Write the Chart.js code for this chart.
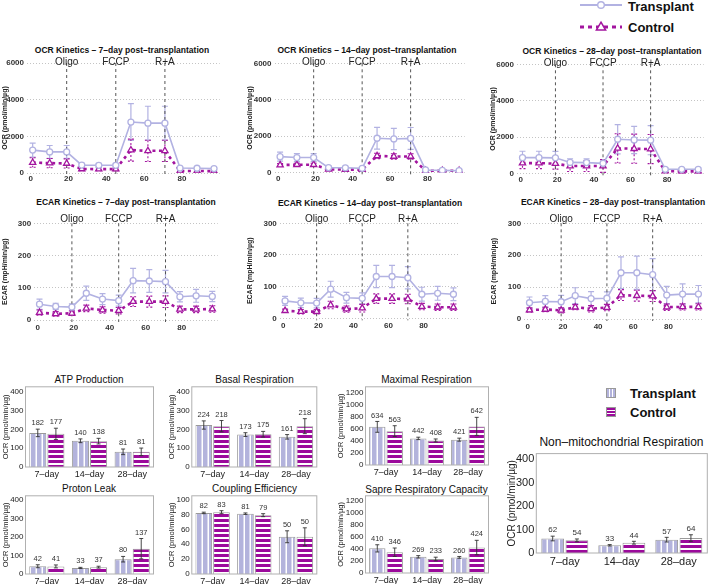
<!DOCTYPE html>
<html>
<head>
<meta charset="utf-8">
<script src="https://cdn.jsdelivr.net/npm/chart.js@4.4.0/dist/chart.umd.min.js"></script>
<style>
  body { margin: 0; background: #fff; width: 709px; height: 584px; position: relative; overflow: hidden;
         font-family: "Liberation Sans", Arial, sans-serif; }
  canvas { position: absolute; }
  .t { position: absolute; white-space: nowrap; transform: translate(-50%, -50%); color: #111; }
  .lg { position: absolute; white-space: nowrap; transform: translateY(-50%); font-weight: bold; color: #111; }
  .sw { position: absolute; width: 10px; height: 10px; box-sizing: border-box; border: 1px solid #999; }
</style>
</head>
<body>

<!-- legends -->
<svg style="position:absolute;left:578px;top:0" width="46" height="34">
  <line x1="2" y1="5" x2="44" y2="5" stroke="#b2b2e2" stroke-width="1.8"/>
  <circle cx="23" cy="5" r="3.3" fill="#fff" stroke="#b2b2e2" stroke-width="1.4"/>
  <line x1="2" y1="27" x2="44" y2="27" stroke="#a3159f" stroke-width="3" stroke-dasharray="4 4"/>
  <polygon points="23,22.2 27.6,30 18.4,30" fill="#fff" stroke="#a3159f" stroke-width="1.5"/>
</svg>
<div class="lg" style="left:628px;top:6px;font-size:13px">Transplant</div>
<div class="lg" style="left:628px;top:27px;font-size:13px">Control</div>

<div class="sw" style="left:606px;top:388px;background:repeating-linear-gradient(90deg,#b3b3dc 0 2px,#fff 2px 3px)"></div>
<div class="sw" style="left:606px;top:407px;background:repeating-linear-gradient(180deg,#9b0a9b 0 1.5px,#fff 1.5px 3px)"></div>
<div class="lg" style="left:630px;top:393px;font-size:13px">Transplant</div>
<div class="lg" style="left:630px;top:412px;font-size:13px">Control</div>

<script>
// ---- kinetics (Seahorse) data ----
const timePoints = [1, 10, 19, 27, 36, 45, 53, 62, 71, 79, 88, 97];
const timeTicks = [0, 20, 40, 60, 80];
const injectionTimes = [19, 45, 71];
const injectionLabels = ['Oligo', 'FCCP', 'R+A'];

const ocrTicks = [0, 2000, 4000, 6000];
const ecarTicks = [0, 100, 200, 300];

const ocr7T = [1250, 1150, 1150, 430, 420, 420, 2780, 2720, 2720, 270, 260, 240];
const ocr7TErr = [380, 350, 350, 100, 100, 100, 1000, 920, 920, 60, 60, 60];
const ocr7C = [570, 540, 520, 220, 210, 210, 1250, 1210, 1210, 110, 110, 100];
const ocr7CErr = [260, 250, 250, 90, 80, 80, 600, 580, 580, 40, 40, 40];

const ocr14T = [880, 830, 830, 280, 270, 240, 1890, 1850, 1880, 150, 130, 110];
const ocr14TErr = [250, 220, 220, 80, 80, 80, 600, 580, 600, 40, 40, 40];
const ocr14C = [420, 440, 440, 180, 170, 170, 920, 890, 890, 110, 110, 110];
const ocr14CErr = [80, 80, 80, 50, 50, 50, 150, 150, 150, 40, 40, 40];

const ocr28T = [880, 880, 870, 620, 610, 570, 1890, 1850, 1840, 240, 240, 240];
const ocr28TErr = [350, 350, 350, 200, 200, 200, 800, 750, 800, 80, 80, 80];
const ocr28C = [580, 580, 550, 420, 420, 420, 1390, 1370, 1350, 140, 130, 130];
const ocr28CErr = [300, 300, 300, 300, 300, 350, 800, 800, 800, 80, 70, 70];

const ecar7T = [49, 42, 40, 83, 65, 60, 122, 121, 119, 72, 75, 73];
const ecar7TErr = [16, 10, 10, 22, 17, 17, 38, 35, 35, 16, 20, 16];
const ecar7C = [23, 19, 21, 36, 31, 29, 57, 57, 57, 33, 33, 34];
const ecar7CErr = [8, 7, 7, 10, 10, 10, 15, 17, 18, 10, 10, 10];

const ecar14T = [55, 49, 48, 92, 65, 63, 132, 132, 128, 76, 79, 76];
const ecar14TErr = [14, 15, 15, 25, 17, 17, 35, 35, 35, 22, 22, 20];
const ecar14C = [24, 21, 21, 42, 29, 32, 62, 62, 61, 37, 35, 35];
const ecar14CErr = [5, 7, 7, 12, 10, 12, 15, 15, 15, 10, 10, 10];

const ecar28T = [51, 55, 54, 73, 64, 65, 145, 145, 139, 75, 78, 78];
const ecar28TErr = [18, 18, 20, 25, 22, 20, 50, 52, 50, 27, 32, 27];
const ecar28C = [28, 30, 27, 37, 32, 36, 75, 73, 72, 37, 38, 38];
const ecar28CErr = [7, 7, 8, 8, 10, 10, 17, 17, 17, 10, 10, 10];

// ---- summary bar data ----
const days = ['7–day', '14–day', '28–day'];

const atpT = [182, 140, 81], atpTErr = [20, 10, 15];
const atpC = [177, 138, 81], atpCErr = [30, 15, 20];
const basalT = [224, 173, 161], basalTErr = [22, 10, 12];
const basalC = [218, 175, 218], basalCErr = [30, 15, 40];
const maxT = [634, 442, 421], maxTErr = [90, 20, 25];
const maxC = [563, 408, 642], maxCErr = [90, 25, 150];
const leakT = [42, 33, 80], leakTErr = [8, 3, 15];
const leakC = [41, 37, 137], leakCErr = [8, 5, 55];
const coupT = [82, 81, 50], coupTErr = [1, 1, 8];
const coupC = [83, 79, 50], coupCErr = [2, 2, 12];
const spareT = [410, 269, 260], spareTErr = [60, 20, 15];
const spareC = [346, 233, 424], spareCErr = [70, 30, 120];
const nonT = [62, 33, 57], nonTErr = [10, 3, 10];
const nonC = [54, 44, 64], nonCErr = [6, 6, 14];

const ticks400 = [0, 100, 200, 300, 400];
const ticks1200 = [0, 200, 400, 600, 800, 1000, 1200];
const ticks100 = [0, 20, 40, 60, 80, 100];

const LAV = '#b2b2e2', PUR = '#a3159f';
const BAR_LAV = '#b3b3dc', BAR_PUR = '#9b0a9b';
const FONT = '"Liberation Sans", Arial, sans-serif';
const plain = v => String(v);

function text(x, y, str, css) {
  const d = document.createElement('div');
  d.className = 't';
  d.textContent = str;
  d.style.cssText = `left:${x}px;top:${y}px;` + css;
  document.body.appendChild(d);
}

function place(box) {
  const c = document.createElement('canvas');
  c.width = Math.round(box.w);
  c.height = Math.round(box.h);
  c.style.left = box.x + 'px';
  c.style.top = box.y + 'px';
  document.body.appendChild(c);
  return c;
}

function padFor(box, area, xH) {
  return {
    left: 0,
    top: area.t - box.y,
    right: box.x + Math.round(box.w) - area.r,
    bottom: box.y + Math.round(box.h) - area.b - xH
  };
}

// error bars (+ optional value labels) drawn from the y scale
const errorBars = {
  id: 'errorBars',
  beforeDatasetsDraw(chart, args, o) { if (o.under) drawErrors(chart, o); },
  afterDatasetsDraw(chart, args, o) { if (!o.under) drawErrors(chart, o); }
};
function drawErrors(chart, o) {
  const ctx = chart.ctx, y = chart.scales.y;
  chart.data.datasets.forEach((ds, i) => {
    const meta = chart.getDatasetMeta(i);
    ctx.save();
    ctx.strokeStyle = ds.errColor;
    ctx.lineWidth = ds.errWidth;
    ctx.setLineDash(ds.errDash || []);
    meta.data.forEach((el, j) => {
      const v = meta.controller.getParsed(j).y, e = ds.errors[j];
      const top = y.getPixelForValue(v + e), bot = y.getPixelForValue(Math.max(v - e, 0));
      ctx.beginPath();
      ctx.moveTo(el.x, top); ctx.lineTo(el.x, bot);
      ctx.moveTo(el.x - o.cap, top); ctx.lineTo(el.x + o.cap, top);
      ctx.moveTo(el.x - o.cap, bot); ctx.lineTo(el.x + o.cap, bot);
      ctx.stroke();
      if (o.labels) {
        ctx.fillStyle = '#333';
        ctx.font = `${o.labelSize}px ${FONT}`;
        ctx.textAlign = 'center';
        ctx.textBaseline = 'middle';
        ctx.fillText(String(v), el.x, top - o.labelGap);
      }
    });
    ctx.restore();
  });
}

const injections = {
  id: 'injections',
  beforeDatasetsDraw(chart, args, o) {
    const { ctx, chartArea: a, scales: { x } } = chart;
    ctx.save();
    injectionTimes.forEach((t, i) => {
      const px = x.getPixelForValue(t);
      ctx.strokeStyle = '#555';
      ctx.lineWidth = 1;
      ctx.setLineDash([3, 3]);
      ctx.beginPath();
      ctx.moveTo(px, a.top + o.lineTop);
      ctx.lineTo(px, a.bottom + 2);
      ctx.stroke();
      ctx.fillStyle = '#222';
      ctx.font = `10px ${FONT}`;
      ctx.textAlign = 'center';
      ctx.textBaseline = 'middle';
      ctx.fillText(injectionLabels[i], px, a.top + o.labelDy);
    });
    ctx.restore();
  }
};

const frame = {
  id: 'frame',
  afterDraw(chart) {
    const { ctx, chartArea: a } = chart;
    ctx.save();
    ctx.strokeStyle = '#b0b0b0';
    ctx.lineWidth = 1;
    ctx.strokeRect(a.left, a.top, a.right - a.left, a.bottom - a.top);
    ctx.restore();
  }
};

function kinetics(s) {
  const xH = 14;
  text(s.titleX, s.titleY, s.title, 'font-size:8.5px;font-weight:bold;color:#111');
  const canvas = place(s.box);
  new Chart(canvas, {
    type: 'line',
    data: {
      datasets: [
        {
          label: 'Transplant',
          data: timePoints.map((t, i) => ({ x: t, y: s.tVals[i] })),
          errors: s.tErr, errColor: LAV, errWidth: 1.2, errDash: [],
          borderColor: LAV, borderWidth: 1.6,
          pointStyle: 'circle', pointRadius: 3, pointBorderWidth: 1.3,
          pointBackgroundColor: '#fff', pointBorderColor: LAV
        },
        {
          label: 'Control',
          data: timePoints.map((t, i) => ({ x: t, y: s.cVals[i] })),
          errors: s.cErr, errColor: PUR, errWidth: 1.1, errDash: [2, 2],
          borderColor: PUR, borderWidth: 2.6, borderDash: [3, 3.5],
          pointStyle: 'triangle', pointRadius: 3.6, pointBorderWidth: 1.3,
          pointBackgroundColor: '#fff', pointBorderColor: PUR
        }
      ]
    },
    options: {
      responsive: false,
      animation: false,
      layout: { padding: padFor(s.box, s.area, xH) },
      plugins: {
        legend: { display: false },
        tooltip: { enabled: false },
        errorBars: { under: true, cap: 3 },
        injections: { labelDy: s.labelDy, lineTop: 0 }
      },
      scales: {
        x: {
          type: 'linear', min: -2, max: 100,
          afterBuildTicks: a => { a.ticks = timeTicks.map(v => ({ value: v })); },
          afterFit: a => { a.height = xH; },
          grid: { display: false, drawTicks: false },
          border: { display: false },
          ticks: { font: { family: FONT, size: 8, weight: 'bold' }, color: '#333', padding: s.tickPad, maxRotation: 0, callback: plain }
        },
        y: {
          min: 0, max: s.yMax,
          afterBuildTicks: a => { a.ticks = s.yTicks.map(v => ({ value: v })); },
          afterFit: a => { a.width = s.area.l - s.box.x; },
          grid: { color: '#c4c4c4', lineWidth: 1, drawTicks: false },
          border: { display: false, dash: [1, 2] },
          ticks: { font: { family: FONT, size: 8, weight: 'bold' }, color: '#333', padding: 3, callback: plain },
          title: { display: true, text: s.yTitle, color: '#222', padding: 0, font: { family: FONT, size: 7, weight: 'bold' } }
        }
      }
    },
    plugins: [errorBars, injections]
  });
}

function stripes(vertical) {
  const p = document.createElement('canvas');
  const g = p.getContext('2d');
  if (vertical) {
    p.width = 6; p.height = 6;
    g.fillStyle = BAR_LAV; g.fillRect(0, 0, 6, 6);
    g.fillStyle = '#fff'; g.fillRect(4.5, 0, 1.5, 6);
  } else {
    p.width = 5; p.height = 5;
    g.fillStyle = BAR_PUR; g.fillRect(0, 0, 5, 5);
    g.fillStyle = '#fff'; g.fillRect(0, 3, 5, 2);
  }
  return g.createPattern(p, 'repeat');
}
const patT = stripes(true), patC = stripes(false);

function summary(s) {
  const xH = s.big ? 16 : 12;
  const tickSize = s.big ? 11 : 8, catSize = s.big ? 11 : 9, axSize = s.big ? 10 : 7.5;
  text((s.area.l + s.area.r) / 2, s.titleY, s.title, `font-size:${s.big ? 12 : 10}px;color:#111`);
  const canvas = place(s.box);
  new Chart(canvas, {
    type: 'bar',
    data: {
      labels: days,
      datasets: [
        { label: 'Transplant', data: s.tVals, errors: s.tErr, errColor: '#333', errWidth: 0.9,
          backgroundColor: patT, borderColor: '#9a9a9a', borderWidth: 1 },
        { label: 'Control', data: s.cVals, errors: s.cErr, errColor: '#333', errWidth: 0.9,
          backgroundColor: patC, borderColor: '#9a9a9a', borderWidth: 1 }
      ]
    },
    options: {
      responsive: false,
      animation: false,
      categoryPercentage: 0.85,
      barPercentage: 0.94,
      layout: { padding: padFor(s.box, s.area, xH) },
      plugins: {
        legend: { display: false },
        tooltip: { enabled: false },
        errorBars: { under: false, cap: 2, labels: true, labelSize: s.big ? 8 : 7.5, labelGap: 6 }
      },
      scales: {
        x: {
          afterFit: a => { a.height = xH; },
          grid: { display: false, drawTicks: false },
          border: { display: false },
          ticks: { font: { family: FONT, size: catSize }, color: '#222', padding: 2, maxRotation: 0, autoSkip: false }
        },
        y: {
          min: 0, max: s.yMax,
          afterBuildTicks: a => { a.ticks = s.yTicks.map(v => ({ value: v })); },
          afterFit: a => { a.width = s.area.l - s.box.x; },
          grid: { display: false, drawTicks: false },
          border: { display: false },
          ticks: { font: { family: FONT, size: tickSize }, color: '#222', padding: 2, callback: plain },
          title: { display: true, text: 'OCR (pmol/min/µg)', color: '#222', padding: 0, font: { family: FONT, size: axSize } }
        }
      }
    },
    plugins: [errorBars, frame]
  });
}

// ---- kinetics panels ----
kinetics({ title: 'OCR Kinetics – 7–day post–transplantation', titleX: 122, titleY: 50,
  box: { x: 1, y: 55, w: 224, h: 135 }, area: { l: 27, t: 63, r: 221, b: 173 },
  yTitle: 'OCR (pmol/min/µg)', yMax: 6000, yTicks: ocrTicks, tickPad: 1, labelDy: -1,
  tVals: ocr7T, tErr: ocr7TErr, cVals: ocr7C, cErr: ocr7CErr });
kinetics({ title: 'OCR Kinetics – 14–day post–transplantation', titleX: 367, titleY: 50,
  box: { x: 246, y: 55, w: 224, h: 135 }, area: { l: 274.5, t: 63.3, r: 466.7, b: 172.7 },
  yTitle: 'OCR (pmol/min/µg)', yMax: 6000, yTicks: ocrTicks, tickPad: 1, labelDy: -1,
  tVals: ocr14T, tErr: ocr14TErr, cVals: ocr14C, cErr: ocr14CErr });
kinetics({ title: 'OCR Kinetics – 28–day post–transplantation', titleX: 612, titleY: 51,
  box: { x: 489, y: 55, w: 220, h: 135 }, area: { l: 517, t: 64.3, r: 708.7, b: 173.7 },
  yTitle: 'OCR (pmol/min/µg)', yMax: 6000, yTicks: ocrTicks, tickPad: 1, labelDy: -1,
  tVals: ocr28T, tErr: ocr28TErr, cVals: ocr28C, cErr: ocr28CErr });

kinetics({ title: 'ECAR Kinetics – 7–day post–transplantation', titleX: 126, titleY: 202,
  box: { x: 1, y: 210, w: 222, h: 132 }, area: { l: 34.1, t: 223.3, r: 218.7, b: 320 },
  yTitle: 'ECAR (mpH/min/µg)', yMax: 300, yTicks: ecarTicks, tickPad: 3, labelDy: -4,
  tVals: ecar7T, tErr: ecar7TErr, cVals: ecar7C, cErr: ecar7CErr });
kinetics({ title: 'ECAR Kinetics – 14–day post–transplantation', titleX: 370, titleY: 203,
  box: { x: 246, y: 210, w: 218, h: 132 }, area: { l: 279.8, t: 223.3, r: 459.3, b: 318.3 },
  yTitle: 'ECAR (mpH/min/µg)', yMax: 300, yTicks: ecarTicks, tickPad: 3, labelDy: -4,
  tVals: ecar14T, tErr: ecar14TErr, cVals: ecar14C, cErr: ecar14CErr });
kinetics({ title: 'ECAR Kinetics – 28–day post–transplantation', titleX: 613, titleY: 202,
  box: { x: 490, y: 210, w: 219, h: 132 }, area: { l: 524.2, t: 223.3, r: 704.7, b: 319 },
  yTitle: 'ECAR (mpH/min/µg)', yMax: 300, yTicks: ecarTicks, tickPad: 3, labelDy: -4,
  tVals: ecar28T, tErr: ecar28TErr, cVals: ecar28C, cErr: ecar28CErr });

// ---- summary panels ----
summary({ title: 'ATP Production', titleY: 379,
  box: { x: 0.5, y: 380, w: 157, h: 100 }, area: { l: 25, t: 385, r: 153, b: 467 },
  yMax: 428, yTicks: ticks400, tVals: atpT, tErr: atpTErr, cVals: atpC, cErr: atpCErr });
summary({ title: 'Basal Respiration', titleY: 379,
  box: { x: 167.2, y: 380, w: 155, h: 100 }, area: { l: 192, t: 385, r: 317, b: 467 },
  yMax: 428, yTicks: ticks400, tVals: basalT, tErr: basalTErr, cVals: basalC, cErr: basalCErr });
summary({ title: 'Maximal Respiration', titleY: 379,
  box: { x: 335.5, y: 380, w: 157, h: 100 }, area: { l: 365, t: 385, r: 488, b: 465 },
  yMax: 1300, yTicks: ticks1200, tVals: maxT, tErr: maxTErr, cVals: maxC, cErr: maxCErr });

summary({ title: 'Proton Leak', titleY: 488,
  box: { x: 0.5, y: 489, w: 157, h: 100 }, area: { l: 25, t: 494, r: 153, b: 574 },
  yMax: 423, yTicks: ticks400, tVals: leakT, tErr: leakTErr, cVals: leakC, cErr: leakCErr });
summary({ title: 'Coupling Efficiency', titleY: 488,
  box: { x: 167.2, y: 489, w: 155, h: 100 }, area: { l: 192, t: 494, r: 317, b: 574 },
  yMax: 105, yTicks: ticks100, tVals: coupT, tErr: coupTErr, cVals: coupC, cErr: coupCErr });
summary({ title: 'Sapre Respiratory Capacity', titleY: 489,
  box: { x: 335.5, y: 489, w: 157, h: 100 }, area: { l: 365, t: 494, r: 488, b: 573 },
  yMax: 1285, yTicks: ticks1200, tVals: spareT, tErr: spareTErr, cVals: spareC, cErr: spareCErr });

summary({ title: 'Non–mitochondrial Respiration', titleY: 442, big: true,
  box: { x: 505.7, y: 445, w: 203, h: 139 }, area: { l: 536, t: 450, r: 707, b: 553 },
  yMax: 425, yTicks: ticks400, tVals: nonT, tErr: nonTErr, cVals: nonC, cErr: nonCErr });
</script>
</body>
</html>
